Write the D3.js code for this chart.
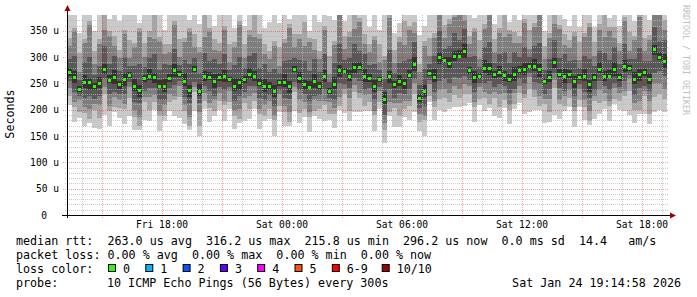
<!DOCTYPE html>
<html>
<head>
<meta charset="utf-8">
<title>SmokePing</title>
<script src="https://d3js.org/d3.v7.min.js"></script>
<style>
    html, body { margin: 0; padding: 0; background: #ffffff; }
    svg { display: block; font-family: "DejaVu Sans Mono", monospace; }
</style>
</head>
<body>
<div id="chart"></div>
<script>
    // median rtt per 15 min step, in microseconds
    const median = [272,262,240,252,252,245,250,278,256,262,248,258,266,245,238,260,265,262,246,246,260,275,268,255,238,278,236,265,262,255,
        262,265,258,246,252,258,268,265,250,246,246,236,252,253,246,278,260,249,244,255,246,265,236,249,276,274,264,281,281,265,
        260,246,258,220,265,248,254,250,266,287,222,236,270,263,300,295,288,303,303,312,275,262,265,280,280,268,271,266,258,268,
        276,278,284,283,277,255,262,290,268,264,268,254,262,264,248,262,278,265,265,278,262,283,280,258,268,271,258,315,300,292];

    // the 10 pings of each step, sorted (smoke)
    const ping1 = [209,176,184,169,175,165,164,190,170,195,185,172,188,162,161,180,179,199,160,179,197,189,185,172,161,198,150,202,176,188,
        199,179,202,163,175,178,182,202,164,179,183,150,196,170,169,198,174,186,158,188,183,179,180,166,199,194,178,195,195,198,
        197,160,202,137,188,168,168,187,180,195,159,150,214,180,200,195,202,205,205,208,212,176,209,197,203,188,185,203,172,201,
        213,192,195,200,200,175,176,190,182,197,205,168,206,181,171,182,192,202,179,211,199,197,190,175,191,191,172,195,200,195];
    const ping2 = [227,206,196,194,183,200,184,230,198,205,203,202,222,187,169,215,199,214,188,189,215,219,224,197,169,233,170,217,204,198,
        217,209,214,188,183,213,202,217,192,189,201,180,208,195,177,233,194,201,186,198,201,209,192,191,207,229,198,233,223,208,
        215,190,214,162,196,203,188,202,208,230,177,180,226,205,220,222,215,228,222,230,230,206,221,222,211,223,205,218,200,211,
        231,222,240,225,208,210,196,242,210,207,223,198,218,206,179,217,212,217,207,221,217,227,236,200,199,226,192,225,230,220];
    const ping3 = [242,214,218,206,201,210,209,244,207,225,218,210,244,199,187,225,224,228,197,209,230,227,246,209,187,243,195,231,213,218,
        232,217,236,200,201,223,227,231,201,209,216,188,230,207,195,243,219,215,195,218,216,217,214,203,225,239,223,247,232,228,
        230,198,236,174,214,213,213,216,217,250,192,188,248,217,238,240,232,245,240,248,245,214,243,234,229,233,230,232,209,231,
        246,230,262,237,226,220,221,256,219,227,238,206,240,218,197,227,237,231,216,241,232,235,258,212,217,236,217,250,251,240];
    const ping4 = [254,234,226,222,226,220,227,258,229,234,230,230,252,215,212,235,242,242,219,218,242,247,254,225,212,253,213,245,235,227,
        244,237,244,216,226,233,245,245,223,218,228,208,238,223,220,253,237,229,217,227,228,237,222,219,250,249,241,261,254,237,
        242,218,244,190,239,223,231,230,239,259,204,208,256,233,255,258,250,262,260,265,257,234,251,250,254,243,248,246,231,240,
        258,250,270,253,251,230,239,270,241,236,250,226,248,234,222,237,255,245,238,250,244,255,266,228,242,246,235,270,273,264];
    const ping5 = [264,250,234,242,238,238,241,267,251,249,240,246,260,235,224,253,256,251,241,233,252,263,262,245,224,271,227,254,257,242,
        254,253,252,236,238,251,259,254,245,233,238,224,246,243,232,271,251,238,239,242,238,253,230,239,262,267,255,270,276,252,
        252,234,252,210,251,241,245,239,261,274,214,224,264,253,286,288,279,292,298,299,267,250,259,270,266,261,262,255,253,255,
        268,266,278,273,263,248,253,279,263,251,260,242,256,254,234,255,269,254,260,265,254,271,274,248,254,264,249,304,295,279];
    const ping6 = [279,273,245,266,261,251,262,286,266,275,255,269,271,259,247,266,277,270,256,259,267,286,273,269,247,284,248,273,272,268,
        269,276,263,260,261,264,280,273,260,259,253,247,257,267,255,284,272,257,254,268,253,276,241,263,285,280,276,289,291,278,
        267,257,263,234,274,254,266,258,276,300,229,247,275,277,309,301,300,311,313,325,282,273,270,294,289,274,283,274,268,281,
        283,289,289,297,286,261,274,298,278,277,275,265,267,278,257,268,290,273,275,291,269,294,285,272,277,277,270,323,310,305];
    const ping7 = [297,303,257,291,301,266,284,321,286,303,273,299,283,284,287,281,299,305,276,287,285,316,285,294,287,299,270,308,292,296,
        287,306,275,285,301,279,302,308,280,287,271,277,269,292,295,299,294,292,274,296,271,306,253,288,325,295,298,324,311,306,
        285,287,275,259,314,269,288,293,296,328,247,277,287,302,349,316,322,346,333,353,300,303,282,319,329,289,305,309,288,309,
        301,319,301,322,326,276,296,333,298,305,293,295,279,303,297,283,312,308,295,319,287,324,297,297,317,292,292,358,330,333];
    const ping8 = [322,348,272,326,361,286,324,351,341,321,298,344,298,319,347,301,339,335,331,305,310,361,300,329,347,319,310,338,347,314,
        312,351,290,320,361,299,342,338,335,305,296,322,284,327,355,319,334,322,329,314,296,351,268,323,385,315,338,354,366,324,
        310,332,290,294,374,289,328,323,351,346,272,322,302,337,409,336,362,376,388,371,325,348,297,354,389,309,345,339,343,327,
        326,364,316,357,386,296,336,363,353,323,318,340,294,338,357,303,352,338,350,337,312,369,312,332,377,312,332,388,385,351];
    const ping9 = [337,356,307,334,369,311,334,396,349,341,313,352,333,327,355,326,349,380,339,325,325,369,335,337,355,344,320,383,355,334,
        327,359,325,328,369,324,352,383,343,325,311,330,319,335,363,344,344,367,337,334,311,359,303,331,393,340,348,399,374,344,
        325,340,325,302,382,314,338,368,359,366,287,330,337,345,417,361,372,421,396,391,340,356,332,362,397,334,355,384,351,347,
        341,372,351,365,394,321,346,408,361,343,333,348,329,346,365,328,362,383,358,357,327,377,347,340,385,337,342,433,393,371];
    const ping10 = [392,453,345,476,396,350,459,461,372,436,368,449,408,469,365,411,474,445,441,352,380,466,410,479,370,429,362,448,457,360,
        382,456,400,355,396,360,477,448,445,355,366,427,365,477,372,429,469,432,350,429,366,456,378,370,420,368,473,464,476,439,
        358,437,352,444,409,345,365,433,461,461,342,360,412,487,444,446,497,486,498,486,395,375,407,504,424,362,480,449,366,442,
        370,469,426,507,421,350,471,473,463,372,360,445,358,488,392,357,487,448,375,452,360,474,422,368,412,422,371,498,495,466];

    const yTicks = [0, 50, 100, 150, 200, 250, 300, 350];
    const xTickLabels = ["Fri 18:00", "Sat 00:00", "Sat 06:00", "Sat 12:00", "Sat 18:00"];
    const xTickTimes = [new Date(2026, 0, 23, 18), new Date(2026, 0, 24, 0), new Date(2026, 0, 24, 6),
        new Date(2026, 0, 24, 12), new Date(2026, 0, 24, 18)];

    const lossLabels = ["0", "1", "2", "3", "4", "5", "6-9", "10/10"];
    const lossColors = ["#26ff00", "#00b8ff", "#0059ff", "#5e00ff", "#ff00ff", "#ff5500", "#ff0000", "#a10000"];

    const startTime = new Date(2026, 0, 23, 13, 15);
    const endTime = new Date(2026, 0, 24, 19, 15);
    const stepMs = 15 * 60 * 1000;

    const width = 697, height = 297;
    const plotLeft = 67, plotRight = 667, plotTop = 15, plotBottom = 215;

    const svg = d3.select("#chart").append("svg")
        .attr("width", width)
        .attr("height", height);

    svg.append("rect").attr("width", width).attr("height", height).attr("fill", "#ffffff");

    const x = d3.scaleTime().domain([startTime, endTime]).range([plotLeft, plotRight]);
    const y = d3.scaleLinear().domain([0, 380]).range([plotBottom, plotTop]);

    svg.append("clipPath").attr("id", "plotClip")
        .append("rect").attr("x", plotLeft).attr("y", plotTop)
        .attr("width", plotRight - plotLeft + 1).attr("height", plotBottom - plotTop);

    // smoke: outermost pair first, darker towards the median
    const pings = [ping1, ping2, ping3, ping4, ping5, ping6, ping7, ping8, ping9, ping10];
    const grays = ["#cacaca", "#a4a4a4", "#7e7e7e", "#585858", "#323232"];
    const plot = svg.append("g").attr("clip-path", "url(#plotClip)");

    const stepTime = i => new Date(startTime.getTime() + i * stepMs);

    grays.forEach((gray, k) => {
        const lo = pings[k], hi = pings[9 - k];
        plot.append("g").selectAll("rect")
            .data(median.map((m, i) => i))
            .enter()
            .append("rect")
            .attr("x", i => x(stepTime(i)))
            .attr("width", i => x(stepTime(i + 1)) - x(stepTime(i)))
            .attr("y", i => y(hi[i]))
            .attr("height", i => y(lo[i]) - y(hi[i]))
            .attr("fill", gray)
            .attr("shape-rendering", "crispEdges");
    });

    // grid (drawn over the smoke, like rrdtool)
    const grid = svg.append("g");
    d3.range(10, 380, 10).forEach(v => {
        const major = v % 50 === 0;
        grid.append("line")
            .attr("x1", major ? plotLeft - 4 : plotLeft - 2).attr("x2", plotRight + 2)
            .attr("y1", Math.round(y(v)) + 0.5).attr("y2", Math.round(y(v)) + 0.5)
            .attr("stroke", major ? "rgba(255,0,0,0.38)" : "rgba(186,186,186,0.75)")
            .attr("stroke-dasharray", "1,1");
    });
    d3.timeHour.every(1).range(startTime, endTime).forEach(t => {
        const major = t.getHours() % 3 === 0;
        const xp = Math.round(x(t)) + 0.5;
        grid.append("line")
            .attr("x1", xp).attr("x2", xp)
            .attr("y1", plotTop).attr("y2", plotBottom + (major ? 3 : 2))
            .attr("stroke", major ? "rgba(255,0,0,0.38)" : "rgba(186,186,186,0.75)")
            .attr("stroke-dasharray", "1,1");
    });

    // median dots
    svg.append("g").selectAll("rect")
        .data(median)
        .enter()
        .append("rect")
        .attr("x", (d, i) => Math.round(x(stepTime(i))) + 1)
        .attr("y", d => Math.round(y(d)) - 1)
        .attr("width", 3)
        .attr("height", 3)
        .attr("fill", lossColors[0]);

    // axes
    svg.append("line").attr("x1", plotLeft - 5).attr("x2", plotRight + 4)
        .attr("y1", plotBottom + 0.5).attr("y2", plotBottom + 0.5).attr("stroke", "#000");
    svg.append("line").attr("x1", plotLeft + 0.5).attr("x2", plotLeft + 0.5)
        .attr("y1", plotBottom + 3).attr("y2", 9).attr("stroke", "#000");
    svg.append("path").attr("d", `M${plotLeft + 0.5},5 L${plotLeft - 2.5},11 L${plotLeft + 3.5},11 Z`).attr("fill", "#a00000");
    svg.append("path").attr("d", `M${plotRight + 9},${plotBottom + 0.5} L${plotRight + 3},${plotBottom - 2.5} L${plotRight + 3},${plotBottom + 3.5} Z`).attr("fill", "#a00000");

    svg.append("g").selectAll("text")
        .data(yTicks)
        .enter()
        .append("text")
        .attr("x", d => d === 0 ? 47 : 59)
        .attr("y", d => y(d) + 3.5)
        .attr("text-anchor", "end")
        .style("font-size", "9.6px")
        .text(d => d === 0 ? "0" : `${d} u`);

    svg.append("g").selectAll("text")
        .data(xTickTimes)
        .enter()
        .append("text")
        .attr("x", d => x(d))
        .attr("y", 228)
        .attr("text-anchor", "middle")
        .style("font-size", "9.6px")
        .text((d, i) => xTickLabels[i]);

    svg.append("text")
        .attr("transform", "translate(14,114) rotate(-90)")
        .attr("text-anchor", "middle")
        .style("font-size", "11.7px")
        .text("Seconds");

    svg.append("text")
        .attr("transform", "translate(683,5) rotate(90)")
        .style("font-size", "8.3px")
        .attr("fill", "#c0c0c0")
        .text("RRDTOOL / TOBI OETIKER");

    // legend (monospace, keep the runs of spaces)
    const keep = s => s.replace(/ /g, "\u00a0");
    const legend = svg.append("g").style("font-size", "11.7px");
    legend.append("text").attr("x", 16).attr("y", 245)
        .text(keep("median rtt:  263.0 us avg  316.2 us max  215.8 us min  296.2 us now  0.0 ms sd  14.4   am/s"));
    legend.append("text").attr("x", 16).attr("y", 259)
        .text(keep("packet loss: 0.00 % avg  0.00 % max  0.00 % min  0.00 % now"));
    legend.append("text").attr("x", 16).attr("y", 273).text("loss color:");
    const itemX = [108, 145.3, 182.6, 219.9, 257.2, 294.5, 331.8, 381.7];
    lossLabels.forEach((lab, i) => {
        legend.append("rect").attr("x", itemX[i] + 0.5).attr("y", 264.5).attr("width", 7).attr("height", 7)
            .attr("fill", lossColors[i]).attr("stroke", "#000");
        legend.append("text").attr("x", itemX[i] + 15).attr("y", 273).text(lab);
    });
    legend.append("text").attr("x", 16).attr("y", 287).text("probe:");
    legend.append("text").attr("x", 107).attr("y", 287).text("10 ICMP Echo Pings (56 Bytes) every 300s");
    legend.append("text").attr("x", 681).attr("y", 287).attr("text-anchor", "end").text("Sat Jan 24 19:14:58 2026");
</script>
</body>
</html>
